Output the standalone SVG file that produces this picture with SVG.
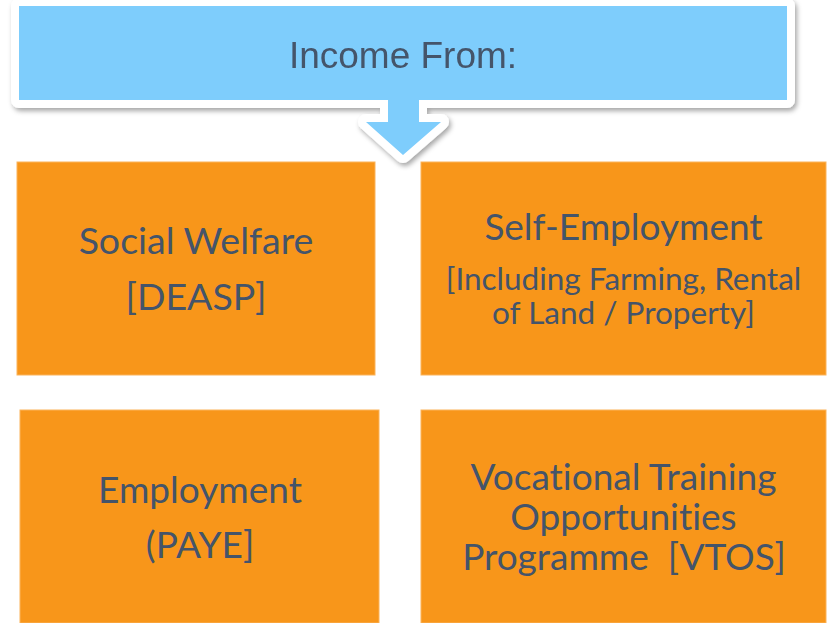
<svg xmlns="http://www.w3.org/2000/svg" width="827" height="623" viewBox="0 0 827 623">
  <style>
    .box { fill: #F8961A; stroke: #FBB35A; stroke-width: 1; }
    .lbl { font-family: Lato, "Liberation Sans", sans-serif; fill: #44546A; text-anchor: middle; font-variant-ligatures: none; }
    .head { font-family: "Liberation Sans", Arial, sans-serif; fill: #44546A; text-anchor: middle; }
  </style>
  <defs>
    <filter id="shadow" x="-5%" y="-20%" width="110%" height="150%">
      <feDropShadow dx="2" dy="3" stdDeviation="2.5" flood-color="#000" flood-opacity="0.35"/>
    </filter>
  </defs>

  <rect width="827" height="623" fill="#ffffff"/>

  <!-- heading callout with downward pointer -->
  <g id="income-from" filter="url(#shadow)">
    <path d="M19,6 H787 V100 H419 V122 H441 L403,155 L366,122 H388 V100 H19 Z"
          fill="#7ECDFC" stroke="#ffffff" stroke-width="16" stroke-linejoin="round" paint-order="stroke"/>
    <text class="head" x="403" y="68" font-size="37">Income From:</text>
  </g>

  <g id="connectors"></g>

  <g id="social-welfare">
    <rect class="box" x="17" y="162" width="358" height="213"/>
    <text class="lbl" x="196" y="254" font-size="37.5">Social Welfare</text>
    <text class="lbl" x="196" y="310" font-size="37.5">[DEASP]</text>
  </g>

  <g id="self-employment">
    <rect class="box" x="421" y="162" width="405" height="213"/>
    <text class="lbl" x="623.5" y="240" font-size="37">Self-Employment</text>
    <text class="lbl" x="623.5" y="290" font-size="31.5">[Including Farming, Rental</text>
    <text class="lbl" x="623.5" y="324" font-size="31.5">of Land / Property]</text>
  </g>

  <g id="employment">
    <rect class="box" x="20" y="410" width="359" height="213"/>
    <text class="lbl" x="200" y="503" font-size="37">Employment</text>
    <text class="lbl" x="200" y="558" font-size="37">(PAYE]</text>
  </g>

  <g id="vtos">
    <rect class="box" x="421" y="410" width="405" height="213"/>
    <text class="lbl" x="623.5" y="490" font-size="37">Vocational Training</text>
    <text class="lbl" x="623.5" y="530" font-size="37">Opportunities</text>
    <text class="lbl" x="624" y="570" font-size="37" xml:space="preserve">Programme  [VTOS]</text>
  </g>
</svg>
